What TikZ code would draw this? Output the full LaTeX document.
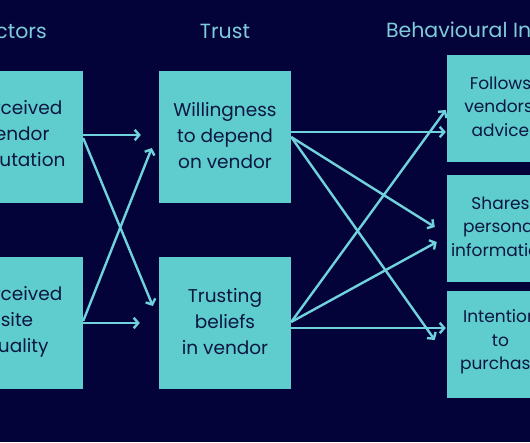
\documentclass[tikz,border=0pt]{standalone}
\usepackage{fontspec}
\setmainfont{Poppins}
\usetikzlibrary{arrows.meta,calc}
\definecolor{bg}{HTML}{03033A}
\definecolor{boxc}{HTML}{5FCDCD}
\definecolor{linec}{HTML}{6FD2DC}
\definecolor{txt}{HTML}{0C1642}
\definecolor{ttl}{HTML}{7FCBD9}
\begin{document}
\begin{tikzpicture}[x=1pt,y=-1pt,
  boxtxt/.style={inner sep=0pt,align=center,text=txt,yshift=1.5pt,
    font=\fontsize{18.5}{26}\selectfont},
  rboxtxt/.style={boxtxt,yshift=0.5pt,font=\fontsize{17}{23.5}\selectfont},
  box/.style={fill=boxc,draw=none,inner sep=0pt,minimum width=132pt,minimum height=132pt,
    label={[boxtxt]center:{#1}}},
  rbox/.style={fill=boxc,draw=none,inner sep=0pt,minimum width=107pt,minimum height=107pt,
    label={[rboxtxt]center:{#1}}},
  title/.style={text=ttl,font=\fontsize{20.5}{24}\selectfont,inner sep=0pt},
  arr/.style={draw=linec,line width=2.4pt,-{Straight Barb[length=4.5pt,width=10.5pt]}}]
\fill[bg] (0,0) rectangle (530,442);
\useasboundingbox (0,0) rectangle (530,442);
\node[title] (t1) at (9,31) {Factors};
\node[title] (t2) at (225,31) {Trust};
\node[title] (t3) at (500,30) {Behavioural Intentions};
\node[box={Perceived\\vendor\\reputation}] (L1) at (17,137) {};
\node[box={Perceived\\site\\quality}] (L2) at (17,323) {};
\node[box={Willingness\\to depend\\on vendor}] (M1) at (225,137) {};
\node[box={Trusting\\beliefs\\in vendor}] (M2) at (225,323) {};
\node[rbox={Follows\\vendors'\\advice}] (R1) at (500.5,108.5) {};
\node[rbox={Shares\\personal\\information}] (R2) at (500.5,228.5) {};
\node[rbox={Intention\\to\\purchase}] (R3) at (500.5,344) {};
\draw[arr] ($(L1.east)+(0,-2)$) -- ($(M1.west)+(-18,-2)$);
\draw[arr] ($(L1.east)+(0,1)$) -- ($(M2.west)+(-6,-17)$);
\draw[arr] (L2.east) -- ($(M2.west)+(-19,0)$);
\draw[arr] ($(L2.east)+(0,-2)$) -- ($(M1.west)+(-7,11)$);
\draw[arr] ($(M1.east)+(0,-5)$) -- ($(R1.west)+(-1,23.5)$);
\draw[arr] (M1.east) -- ($(R2.west)+(-12,-1.5)$);
\draw[arr] (M1.east) -- ($(R3.west)+(-12,-4)$);
\draw[arr] ($(M2.east)+(0,-1)$) -- ($(R1.west)+(-1,1.5)$);
\draw[arr] ($(M2.east)+(0,-1)$) -- ($(R2.west)+(-10,13.5)$);
\draw[arr] ($(M2.east)+(0,5)$) -- ($(R3.west)+(-1,-16)$);
\end{tikzpicture}
\end{document}
